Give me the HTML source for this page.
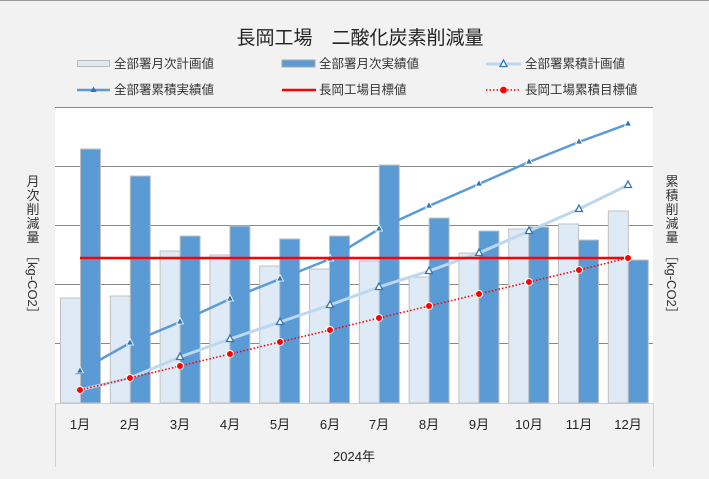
<!DOCTYPE html>
<html><head><meta charset="utf-8"><style>
body{margin:0;background:#f2f2f2;}
svg{display:block;font-family:"Liberation Sans","Noto Sans CJK JP",sans-serif;}
</style></head><body>
<svg width="709" height="479" xmlns="http://www.w3.org/2000/svg">
<rect width="709" height="479" fill="#f2f2f2"/>
<line x1="0" y1="0.5" x2="709" y2="0.5" stroke="#999"/>
<text x="360" y="44" font-size="19" text-anchor="middle" fill="#222">長岡工場　二酸化炭素削減量</text>
<g font-size="12.5" fill="#333">
<rect x="77.5" y="60.5" width="32" height="6" fill="#dde9f5" stroke="#bbb"/><text x="114" y="68">全部署月次計画値</text>
<rect x="282" y="60" width="33" height="7" fill="#5b9bd5" stroke="#aaa"/><text x="319" y="68">全部署月次実績値</text>
<line x1="486" y1="64" x2="521" y2="64" stroke="#bdd7ee" stroke-width="3"/><path d="M503.5,60 L507,66.5 L500,66.5Z" fill="#fff" stroke="#2e75b6" stroke-width="1.3"/><text x="525" y="68">全部署累積計画値</text>
<line x1="77" y1="90" x2="110" y2="90" stroke="#5b9bd5" stroke-width="2.5"/><path d="M93.5,86.5 L96.5,92 L90.5,92Z" fill="#2e75b6"/><text x="114" y="94">全部署累積実績値</text>
<line x1="282" y1="90" x2="316" y2="90" stroke="#ff0000" stroke-width="2.5"/><text x="319" y="94">長岡工場目標値</text>
<line x1="486" y1="90" x2="521" y2="90" stroke="#ff0000" stroke-width="1.6" stroke-dasharray="1.5,2"/><circle cx="503.5" cy="90" r="3.3" fill="#ff0000"/><text x="525" y="94">長岡工場累積目標値</text>
</g>
<rect x="55" y="107" width="598" height="296" fill="#fff"/>
<g stroke="#888" stroke-width="1">
<line x1="55" y1="107.5" x2="653" y2="107.5"/>
<line x1="55" y1="166.5" x2="653" y2="166.5"/>
<line x1="55" y1="225.5" x2="653" y2="225.5"/>
<line x1="55" y1="284.5" x2="653" y2="284.5"/>
<line x1="55" y1="343.5" x2="653" y2="343.5"/>
</g>
<line x1="55" y1="403.5" x2="653" y2="403.5" stroke="#d0d0d0"/>
<line x1="55.5" y1="403" x2="55.5" y2="467" stroke="#d0d0d0"/>
<line x1="653.5" y1="403" x2="653.5" y2="467" stroke="#d0d0d0"/>
<g stroke="#c0c0c0" stroke-width="1">
<rect x="60.5" y="298" width="20" height="105" fill="#deeaf6"/>
<rect x="110.3" y="296" width="20" height="107" fill="#deeaf6"/>
<rect x="160.1" y="251" width="20" height="152" fill="#deeaf6"/>
<rect x="209.9" y="255" width="20" height="148" fill="#deeaf6"/>
<rect x="259.7" y="266" width="20" height="137" fill="#deeaf6"/>
<rect x="309.5" y="269" width="20" height="134" fill="#deeaf6"/>
<rect x="359.3" y="261" width="20" height="142" fill="#deeaf6"/>
<rect x="409.1" y="277" width="20" height="126" fill="#deeaf6"/>
<rect x="458.9" y="253" width="20" height="150" fill="#deeaf6"/>
<rect x="508.7" y="229" width="20" height="174" fill="#deeaf6"/>
<rect x="558.5" y="224" width="20" height="179" fill="#deeaf6"/>
<rect x="608.3" y="211" width="20" height="192" fill="#deeaf6"/>
<rect x="80.5" y="149" width="20" height="254" fill="#5b9bd5"/>
<rect x="130.3" y="176" width="20" height="227" fill="#5b9bd5"/>
<rect x="180.1" y="236" width="20" height="167" fill="#5b9bd5"/>
<rect x="229.9" y="226" width="20" height="177" fill="#5b9bd5"/>
<rect x="279.7" y="239" width="20" height="164" fill="#5b9bd5"/>
<rect x="329.5" y="236" width="20" height="167" fill="#5b9bd5"/>
<rect x="379.3" y="165" width="20" height="238" fill="#5b9bd5"/>
<rect x="429.1" y="218" width="20" height="185" fill="#5b9bd5"/>
<rect x="478.9" y="231" width="20" height="172" fill="#5b9bd5"/>
<rect x="528.7" y="227" width="20" height="176" fill="#5b9bd5"/>
<rect x="578.5" y="240" width="20" height="163" fill="#5b9bd5"/>
<rect x="628.3" y="260" width="20" height="143" fill="#5b9bd5"/>
</g>
<polyline fill="none" stroke="#bdd7ee" stroke-width="3" points="80,390 130,378 180,357 230,339 280,322 330,305 379,287 429,271 479,253 529,231 579,209 628,185"/>
<g fill="#fff" stroke="#2e75b6" stroke-width="1.3">
<path d="M80,367 l3.5,6.5 h-7z"/><path d="M180,353 l3.5,6.5 h-7z"/><path d="M230,335 l3.5,6.5 h-7z"/><path d="M280,318 l3.5,6.5 h-7z"/><path d="M330,301 l3.5,6.5 h-7z"/><path d="M379,283 l3.5,6.5 h-7z"/><path d="M429,267 l3.5,6.5 h-7z"/><path d="M479,249 l3.5,6.5 h-7z"/><path d="M529,227 l3.5,6.5 h-7z"/><path d="M579,205 l3.5,6.5 h-7z"/><path d="M628,181 l3.5,6.5 h-7z"/>
</g>
<polyline fill="none" stroke="#5b9bd5" stroke-width="2.5" points="80,371 130,343 180,322 230,299 280,279 330,259 379,229 429,206 479,184 529,162 579,142 628,124"/>
<g fill="#2e75b6" stroke="#fff" stroke-width="0.8">
<path d="M80,366.5 l3.5,6.5 h-7z"/><path d="M130,338.5 l3.5,6.5 h-7z"/><path d="M180,317.5 l3.5,6.5 h-7z"/><path d="M230,294.5 l3.5,6.5 h-7z"/><path d="M280,274.5 l3.5,6.5 h-7z"/><path d="M330,254.5 l3.5,6.5 h-7z"/><path d="M379,224.5 l3.5,6.5 h-7z"/><path d="M429,201.5 l3.5,6.5 h-7z"/><path d="M479,179.5 l3.5,6.5 h-7z"/><path d="M529,157.5 l3.5,6.5 h-7z"/><path d="M579,137.5 l3.5,6.5 h-7z"/><path d="M628,119.5 l3.5,6.5 h-7z"/>
</g>
<line x1="80" y1="258" x2="628" y2="258" stroke="#ff0000" stroke-width="2.5"/>
<polyline fill="none" stroke="#ff0000" stroke-width="1.6" stroke-dasharray="1.5,2" points="80,390 130,378 180,366 230,354 280,342 330,330 379,318 429,306 479,294 529,282 579,270 628,258"/>
<g fill="#ff0000" stroke="#fff" stroke-width="1">
<circle cx="80" cy="390" r="3.5"/><circle cx="130" cy="378" r="3.5"/><circle cx="180" cy="366" r="3.5"/><circle cx="230" cy="354" r="3.5"/><circle cx="280" cy="342" r="3.5"/><circle cx="330" cy="330" r="3.5"/><circle cx="379" cy="318" r="3.5"/><circle cx="429" cy="306" r="3.5"/><circle cx="479" cy="294" r="3.5"/><circle cx="529" cy="282" r="3.5"/><circle cx="579" cy="270" r="3.5"/><circle cx="628" cy="258" r="3.5"/>
</g>
<g font-size="13" fill="#222" text-anchor="middle">
<text x="80" y="429">1月</text><text x="130" y="429">2月</text><text x="180" y="429">3月</text><text x="230" y="429">4月</text><text x="280" y="429">5月</text><text x="330" y="429">6月</text><text x="379" y="429">7月</text><text x="429" y="429">8月</text><text x="479" y="429">9月</text><text x="529" y="429">10月</text><text x="579" y="429">11月</text><text x="628" y="429">12月</text>
<text x="354" y="461">2024年</text>
</g>
<g font-size="13" fill="#333" text-anchor="middle">
<text><tspan x="33" y="186">月</tspan><tspan x="33" y="200">次</tspan><tspan x="33" y="214">削</tspan><tspan x="33" y="228">減</tspan><tspan x="33" y="242">量</tspan></text>
<text transform="translate(28,249) rotate(90)" text-anchor="start">［kg-CO2］</text>
<text><tspan x="672" y="186">累</tspan><tspan x="672" y="200">積</tspan><tspan x="672" y="214">削</tspan><tspan x="672" y="228">減</tspan><tspan x="672" y="242">量</tspan></text>
<text transform="translate(667,249) rotate(90)" text-anchor="start">［kg-CO2］</text>
</g>
</svg>
</body></html>
